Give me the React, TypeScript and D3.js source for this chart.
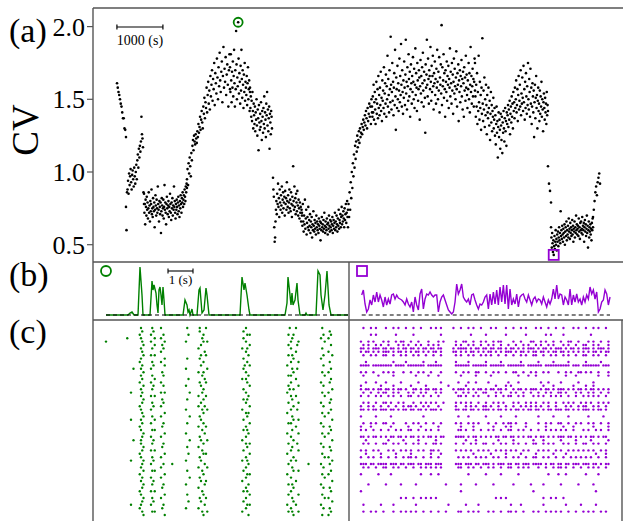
import React from 'react';
import * as d3 from 'd3';

// ---------------- Panel (a): CV versus time (s) ----------------
const segStart = [522, 717, 1109, 2043, 2978, 3413, 3913, 4543, 5543, 6065, 8304, 9891, 9957, 10870];
const segEnd = [717, 1109, 2043, 2978, 3413, 3891, 4543, 5543, 6065, 8304, 9891, 9957, 10870, 11022];

const cvS1 = [1.61, 1.58, 1.55, 1.53, 1.50, 1.47, 1.45, 1.41, 1.37, 1.37, 1.30, 1.29, 1.24];
const cvS2 = [0.76, 0.60, 0.86, 0.88, 0.94, 0.85, 0.99, 0.91, 0.97, 1.02, 0.93, 0.88, 0.98, 1.01, 0.95, 0.90, 1.03, 0.97,
  0.92, 1.00, 1.05, 0.95, 1.08, 1.12, 1.03, 1.16, 1.10, 1.18, 1.14, 1.21, 1.38, 1.26, 1.23, 1.17, 0.86, 0.78];
const cvS3 = [0.85, 0.72, 0.78, 0.64, 0.81, 0.76, 0.70, 0.83, 0.74, 0.79,
  0.68, 0.75, 0.86, 0.72, 0.77, 0.66, 0.80, 0.73, 0.78, 0.88,
  0.71, 0.75, 0.69, 0.82, 0.76, 0.73, 0.79, 0.62, 0.74, 0.84,
  0.77, 0.70, 0.81, 0.75, 0.72, 0.90, 0.78, 0.74, 0.66, 0.80,
  0.76, 0.71, 0.79, 0.58, 0.73, 0.82, 0.77, 0.70, 0.75, 0.81,
  0.68, 0.76, 0.91, 0.74, 0.79, 0.72, 0.64, 0.78, 0.83, 0.75,
  0.71, 0.77, 0.80, 0.69, 0.76, 0.73, 0.85, 0.78, 0.72, 0.67,
  0.79, 0.75, 0.82, 0.70, 0.77, 0.74, 0.90, 0.76, 0.80, 0.72,
  0.68, 0.78, 0.74, 0.81, 0.76, 0.71, 0.79, 0.83, 0.73, 0.77,
  0.69, 0.80, 0.75, 0.84, 0.78, 0.72, 0.82, 0.79, 0.86, 0.76,
  0.81, 0.84, 0.78, 0.88, 0.83, 0.80, 0.90, 0.86, 0.92, 0.89];
const cvS4 = [0.95, 1.02, 0.91, 1.06, 0.99, 1.10, 1.04, 0.97, 1.13, 1.08,
  1.18, 1.22, 1.15, 1.25, 1.21, 1.19, 1.26, 1.23, 1.20, 1.28,
  1.24, 1.33, 1.27, 1.31, 1.38, 1.29, 1.36, 1.42, 1.34, 1.30,
  1.45, 1.40, 1.51, 1.37, 1.48, 1.44, 1.58, 1.41, 1.53, 1.62,
  1.47, 1.56, 1.43, 1.66, 1.52, 1.60, 1.70, 1.49, 1.64, 1.57,
  1.75, 1.46, 1.68, 1.61, 1.54, 1.78, 1.65, 1.50, 1.72, 1.59,
  1.82, 1.63, 1.55, 1.69, 1.76, 1.48, 1.66, 1.86, 1.58, 1.71,
  1.62, 1.79, 1.53, 1.67, 1.74, 1.60, 1.45, 1.70, 1.81, 1.57];
const cvS5 = [1.72, 1.55, 1.81, 1.63, 1.48, 1.69, 1.58, 1.76, 1.52, 1.66,
  1.84, 1.61, 1.45, 1.70, 1.57, 1.97, 1.74, 1.50, 1.65, 1.59,
  2.03, 1.78, 1.54, 1.68, 1.62, 1.47, 1.73, 1.56, 1.84, 1.64,
  1.51, 1.70, 1.60, 1.44, 1.67, 1.55, 1.75, 1.49, 1.62, 1.58,
  1.53, 1.66, 1.46, 1.61, 1.72, 1.50, 1.57, 1.63, 1.42, 1.55];
const cvS6 = [1.58, 1.44, 1.52, 1.38, 1.49, 1.35, 1.55, 1.42, 1.30, 1.47,
  1.39, 1.33, 1.45, 1.28, 1.41, 1.36, 1.50, 1.32, 1.25, 1.43,
  1.37, 1.15, 1.46, 1.34, 1.29, 1.40, 1.31, 1.48, 1.35, 1.22,
  1.42, 1.38, 1.27, 1.44, 1.33, 1.52, 1.30, 1.41, 1.36, 1.24,
  1.47, 1.39, 1.55, 1.32, 1.43, 1.28, 1.37, 1.45, 1.16, 1.40,
  1.34, 1.26, 1.42, 1.38, 1.30];
const cvS7 = [0.96, 0.88, 0.83, 0.62, 0.52, 0.55, 0.66, 0.74, 0.80, 0.71,
  0.85, 0.78, 0.92, 0.76, 0.82, 0.69, 0.88, 0.79, 0.74, 0.84,
  0.77, 0.90, 0.72, 0.81, 0.86, 0.75, 0.79, 0.83, 0.70, 0.87,
  0.78, 0.82, 0.74, 0.93, 0.80, 0.76, 0.84, 0.72, 0.79, 0.88,
  0.75, 0.81, 0.73, 0.86, 0.78, 0.69, 0.83, 0.77, 1.04, 0.80,
  0.74, 0.90, 0.76, 0.82, 0.71, 0.85, 0.79, 0.73, 0.87, 0.77,
  0.70, 0.81, 0.75, 0.68, 0.79, 0.72, 0.76, 0.66, 0.74, 0.70];
const cvS8 = [0.72, 0.63, 0.78, 0.66, 0.59, 0.70, 0.64, 0.81, 0.61, 0.68,
  0.74, 0.57, 0.65, 0.69, 0.62, 0.76, 0.60, 0.67, 0.63, 0.71,
  0.58, 0.66, 0.62, 0.69, 0.55, 0.64, 0.60, 0.73, 0.63, 0.59,
  0.67, 0.61, 0.65, 0.57, 0.70, 0.62, 0.66, 0.60, 0.64, 0.58,
  0.68, 0.63, 0.61, 0.66, 0.53, 0.65, 0.60, 0.69, 0.62, 0.64,
  0.59, 0.67, 0.61, 0.72, 0.63, 0.58, 0.66, 0.62, 0.60, 0.68,
  0.64, 0.57, 0.65, 0.61, 0.70, 0.63, 0.59, 0.67, 0.62, 0.66,
  0.60, 0.64, 0.69, 0.58, 0.63, 0.67, 0.61, 0.65, 0.72, 0.60,
  0.66, 0.62, 0.70, 0.64, 0.59, 0.68, 0.63, 0.74, 0.61, 0.67,
  0.65, 0.71, 0.62, 0.69, 0.76, 0.64, 0.70, 0.66, 0.73, 0.68,
  0.62, 0.75, 0.67, 0.71, 0.78, 0.65, 0.72, 0.80, 0.69, 0.74];
const cvS9 = [0.62, 0.78, 0.69, 0.86, 0.74, 0.93, 0.82, 1.00, 0.89, 1.06,
  0.97, 1.12, 1.03, 1.18, 1.09, 1.21, 1.14, 1.25, 1.17, 1.22,
  1.28, 1.20, 1.30, 1.24, 1.27, 1.33, 1.26, 1.31, 1.36, 1.29,
  1.34, 1.39, 1.32, 1.42, 1.37, 1.30, 1.44, 1.35, 1.40, 1.47,
  1.38, 1.45, 1.33, 1.50, 1.41];
const cvS10 = [1.45, 1.38, 1.52, 1.41, 1.60, 1.36, 1.48, 1.55, 1.43, 1.33,
  1.50, 1.62, 1.40, 1.47, 1.57, 1.37, 1.66, 1.44, 1.53, 1.39,
  1.58, 1.46, 1.69, 1.42, 1.51, 1.35, 1.63, 1.49, 1.56, 1.44,
  1.72, 1.40, 1.54, 1.61, 1.47, 1.67, 1.38, 1.59, 1.50, 1.80,
  1.45, 1.64, 1.53, 1.41, 1.70, 1.57, 1.48, 1.93, 1.60, 1.43,
  1.55, 1.75, 1.49, 1.62, 1.39, 1.58, 1.68, 1.46, 1.84, 1.52,
  1.29, 1.65, 1.57, 1.44, 1.73, 1.50, 1.61, 1.42, 1.56, 1.78,
  1.48, 1.66, 1.53, 1.88, 1.60, 1.45, 1.70, 1.55, 1.40, 1.63,
  1.51, 1.76, 1.58, 1.46, 1.67, 1.91, 1.54, 1.62, 1.43, 1.72,
  1.59, 1.49, 1.81, 1.64, 1.52, 1.69, 1.38, 1.57, 1.74, 1.61,
  1.47, 1.66, 1.55, 1.79, 1.62, 1.50, 1.71, 1.44, 1.60, 1.85,
  1.53, 1.68, 1.58, 1.42, 1.75, 1.63, 1.49, 1.57, 1.70, 1.65,
  1.36, 1.59, 1.77, 1.54, 1.66, 1.48, 1.72, 1.61, 1.82, 1.56,
  1.45, 1.69, 1.63, 1.51, 1.27, 1.74, 1.58, 1.67, 1.91, 1.60,
  1.52, 1.78, 1.64, 1.47, 1.70, 1.66, 1.57, 1.86, 1.62, 1.49,
  1.73, 1.55, 1.66, 1.80, 1.59, 1.43, 1.68, 1.61, 1.76, 1.53,
  1.64, 1.47, 1.71, 1.58, 1.84, 1.62, 1.50, 1.69, 1.56, 1.79,
  1.41, 1.65, 1.60, 1.74, 1.54, 2.01, 1.46, 1.72, 1.59, 1.63,
  1.81, 1.51, 1.68, 1.57, 1.38, 1.70, 1.62, 1.55, 1.76, 1.49,
  1.66, 1.60, 1.73, 1.44, 1.64, 1.58, 1.85, 1.52, 1.69, 1.61,
  1.47, 1.75, 1.56, 1.67, 1.40, 1.62, 1.78, 1.54, 1.71, 1.59,
  1.50, 1.65, 1.83, 1.57, 1.45, 1.68, 1.60, 1.74, 1.35, 1.63,
  1.55, 1.70, 1.48, 1.66, 1.59, 1.77, 1.52, 1.64, 1.43, 1.69,
  1.61, 1.38, 1.72, 1.56, 1.65, 1.49, 1.80, 1.58, 1.67, 1.53,
  1.44, 1.63, 1.57, 1.75, 1.50, 1.68, 1.41, 1.60, 1.86, 1.55,
  1.66, 1.47, 1.59, 1.71, 1.52, 1.64, 1.45, 1.62, 1.78, 1.56];
const cvS11 = [1.75, 1.52, 1.38, 1.60, 1.45, 1.68, 1.33, 1.55, 1.42, 1.80,
  1.48, 1.36, 1.62, 1.44, 1.53, 1.29, 1.58, 1.40, 1.92, 1.47,
  1.35, 1.56, 1.43, 1.65, 1.31, 1.50, 1.39, 1.60, 1.46, 1.26,
  1.53, 1.41, 1.37, 1.58, 1.44, 1.32, 1.49, 1.22, 1.40, 1.55,
  1.34, 1.46, 1.28, 1.42, 1.38, 1.51, 1.30, 1.36, 1.44, 1.25,
  1.39, 1.19, 1.33, 1.45, 1.27, 1.35, 1.10, 1.31, 1.41, 1.24,
  1.36, 1.29, 1.16, 1.40, 1.32, 1.22, 1.38, 1.13, 1.34, 1.27,
  1.42, 1.30, 1.21, 1.37, 1.44, 1.28, 1.35, 1.18, 1.41, 1.33,
  1.39, 1.46, 1.31, 1.43, 1.36, 1.49, 1.26, 1.40, 1.45, 1.34,
  1.52, 1.38, 1.47, 1.30, 1.55, 1.42, 1.48, 1.37, 1.58, 1.44,
  1.50, 1.63, 1.41, 1.46, 1.57, 1.35, 1.53, 1.66, 1.43, 1.49,
  1.60, 1.45, 1.70, 1.39, 1.54, 1.47, 1.65, 1.51, 1.42, 1.73,
  1.48, 1.57, 1.36, 1.62, 1.44, 1.68, 1.52, 1.40, 1.59, 1.46,
  1.75, 1.50, 1.43, 1.64, 1.55, 1.38, 1.71, 1.47, 1.58, 1.33,
  1.45, 1.61, 1.52, 1.41, 1.56, 1.24, 1.48, 1.60, 1.37, 1.51,
  1.66, 1.44, 1.53, 1.30, 1.49, 1.58, 1.42, 1.47, 1.35, 1.56,
  1.40, 1.52, 1.45, 1.62, 1.38, 1.50, 1.43, 1.28, 1.48, 1.54,
  1.44, 1.36, 1.51, 1.41, 1.47, 1.33, 1.55, 1.39, 1.46, 1.42];
const cvS12 = [1.04, 0.92, 0.87, 0.79];
const cvS13 = [0.62, 0.55, 0.48, 0.58, 0.51, 0.45, 0.53, 0.43, 0.49, 0.56,
  0.47, 0.52, 0.60, 0.50, 0.54, 0.46, 0.57, 0.52, 0.59, 0.49,
  0.55, 0.62, 0.53, 0.58, 0.51, 0.73, 0.56, 0.60, 0.54, 0.63,
  0.57, 0.52, 0.61, 0.58, 0.55, 0.64, 0.50, 0.59, 0.62, 0.56,
  0.66, 0.53, 0.60, 0.57, 0.63, 0.55, 0.68, 0.59, 0.61, 0.54,
  0.65, 0.58, 0.62, 0.56, 0.60, 0.67, 0.57, 0.63, 0.52, 0.61,
  0.59, 0.66, 0.55, 0.62, 0.58, 0.70, 0.60, 0.64, 0.57, 0.61,
  0.63, 0.56, 0.68, 0.59, 0.62, 0.54, 0.65, 0.60, 0.66, 0.58,
  0.61, 0.69, 0.57, 0.63, 0.60, 0.65, 0.52, 0.62, 0.67, 0.59,
  0.64, 0.56, 0.61, 0.70, 0.58, 0.63, 0.48, 0.60, 0.66, 0.55,
  0.62, 0.59, 0.64, 0.57, 0.61, 0.53, 0.65, 0.60, 0.68, 0.62];
const cvS14 = [0.69, 0.74, 0.80, 0.86, 0.90, 0.84, 0.93, 0.96, 0.99, 0.92];

const cvSegments = [cvS1, cvS2, cvS3, cvS4, cvS5, cvS6, cvS7, cvS8, cvS9, cvS10, cvS11, cvS12, cvS13, cvS14];
const cvTicks = [0.5, 1.0, 1.5, 2.0];

// ---------------- Panel (b): population rate traces ----------------
const greenTime = [0, 0.88, 0.96, 1.04, 1.12, 1.28, 1.36, 1.44, 1.48, 1.76, 1.84, 1.88, 1.92, 2.0, 2.04, 2.08, 2.12, 2.16,
  2.2, 2.24, 2.28, 2.32, 2.36, 3.08, 3.16, 3.24, 3.28, 3.32, 3.36, 3.44, 3.48, 3.64, 3.72, 3.76, 3.84, 3.92, 4.0, 4.04,
  4.12, 5.36, 5.44, 5.52, 5.56, 5.64, 5.72, 5.76, 7.16, 7.24, 7.28, 7.36, 7.4, 7.44, 7.48, 7.56, 7.64, 7.68, 7.76, 7.96,
  8.0, 8.04, 8.4, 8.48, 8.56, 8.6, 8.68, 8.76, 8.84, 8.92, 9.0, 9.68];
const greenRate = [0, 0, 2, 3, 0, 0, 48, 20, 0, 0, 34, 25, 30, 22, 10, 2, 25, 28,
  20, 10, 28, 15, 0, 0, 15, 10, 3, 5, 0, 6, 0, 0, 25, 27, 2, 5, 27, 20,
  0, 0, 38, 25, 32, 20, 5, 0, 0, 12, 38, 20, 10, 22, 10, 15, 32, 15, 0, 0,
  2, 0, 0, 44, 40, 20, 5, 20, 44, 10, 0, 0];
const purpleStep = 1 / 15;
const purpleRate = [20, 25, 11, 3, 6, 15, 10, 20, 13, 23, 13, 20, 15, 8, 18, 10, 16, 11, 20, 21,
  16, 20, 17, 16, 15, 13, 10, 16, 11, 8, 13, 3, 18, 10, 5, 21, 26, 6, 16, 21,
  20, 23, 20, 18, 20, 20, 3, 13, 18, 20, 15, 10, 5, 3, 1, 3, 13, 31, 21, 25,
  31, 18, 15, 13, 16, 10, 20, 21, 15, 10, 6, 11, 10, 13, 18, 20, 6, 21, 10, 23,
  11, 25, 10, 28, 13, 30, 11, 30, 6, 26, 10, 16, 11, 21, 8, 18, 20, 21, 16, 13,
  20, 15, 10, 16, 18, 13, 16, 15, 11, 18, 13, 8, 15, 11, 16, 26, 16, 30, 16, 21,
  20, 10, 18, 15, 10, 26, 10, 20, 13, 21, 13, 16, 10, 18, 13, 20, 16, 28, 21, 25,
  16, 23, 3, 6, 13, 15, 25, 21, 10, 18];

// ---------------- Panel (c): rasters (spike times in 0.05 s bins per neuron) ----------------
const greenRaster = [
  [36, 45, 52, 73, 83, 88, 120, 155, 160, 181], [37, 46, 83, 118, 187], [35, 44, 54, 74, 86, 121, 123, 154, 158, 182, 188],
  [25, 36, 47, 52, 85, 118, 157, 180, 186], [8, 37, 44, 55, 72, 86, 89, 120, 156, 162, 183], [38, 47, 53, 84, 123, 154, 161, 188],
  [36, 45, 54, 82, 117, 121, 156, 181], [37, 52, 87, 120, 160, 186], [38, 44, 47, 84, 88, 122, 154, 157, 182, 189],
  [36, 55, 73, 83, 118, 158, 180], [35, 45, 52, 86, 121, 156, 162, 187], [37, 46, 55, 84, 119, 123, 153, 182],
  [30, 36, 44, 72, 89, 118, 157, 161, 188], [38, 53, 82, 86, 120, 158, 181, 186], [36, 45, 54, 85, 122, 154, 156, 183],
  [37, 47, 74, 87, 117, 120, 160, 188], [35, 44, 52, 83, 88, 121, 156, 180, 187], [38, 46, 54, 72, 84, 123, 154, 162, 182],
  [36, 45, 86, 118, 155, 158, 189], [28, 37, 52, 55, 75, 85, 120, 153, 181, 186], [36, 44, 47, 82, 88, 122, 156, 160, 183],
  [38, 53, 73, 86, 118, 121, 157, 188], [37, 45, 54, 84, 120, 154, 162, 180, 187], [35, 46, 52, 82, 87, 123, 158, 182],
  [36, 44, 72, 85, 89, 117, 156, 161, 188], [37, 55, 86, 120, 122, 153, 181, 186], [38, 45, 52, 75, 83, 121, 157, 183],
  [28, 36, 47, 84, 118, 158, 162, 189], [37, 44, 54, 73, 86, 123, 154, 156, 180], [35, 53, 82, 88, 120, 160, 182, 187],
  [36, 45, 47, 85, 118, 121, 157, 188], [38, 55, 72, 87, 122, 153, 162, 181, 186], [37, 44, 52, 83, 120, 156, 183],
  [30, 36, 46, 75, 84, 89, 117, 158, 189], [36, 45, 54, 86, 120, 123, 154, 161, 180], [38, 53, 73, 82, 121, 157, 182, 187],
  [37, 44, 47, 85, 118, 156, 162, 188], [35, 55, 74, 86, 88, 123, 153, 181], [36, 45, 52, 83, 120, 158, 183, 186],
  [28, 38, 46, 72, 84, 117, 121, 156, 160, 189], [37, 44, 54, 61, 87, 122, 154, 170, 180, 187], [36, 52, 82, 89, 120, 157, 182],
  [38, 45, 47, 73, 85, 118, 158, 162, 188], [35, 55, 86, 121, 123, 153, 181, 186], [37, 44, 52, 75, 83, 120, 156, 183],
  [36, 46, 84, 88, 117, 160, 189], [38, 45, 54, 72, 87, 122, 154, 157, 180], [37, 53, 82, 120, 158, 182, 187],
  [35, 44, 47, 85, 118, 121, 156, 188], [36, 55, 73, 86, 123, 154, 162, 181], [38, 45, 52, 83, 88, 120, 157, 183, 186],
  [37, 46, 74, 84, 118, 158, 189], [28, 36, 44, 54, 87, 121, 123, 153, 160, 180], [35, 53, 72, 82, 120, 156, 182, 187],
  [37, 45, 47, 85, 89, 117, 154, 157, 162, 188], [38, 55, 86, 122, 158, 181, 186]];

const purpleRaster = [
  "-o--o-o--- o--o-o--o- -o--o---o- o-o----o-- o--o-o--o- --o-o---o- -o--o-o--- o-o--o--o- -o---o-o-- o--o-o--o-",
  "",
  "----o-o--- ----o----- -o-------- --o------- ----o----- o-------o- ------o--- ----o-o--- -o-------- --o-------",
  "",
  "o--o-o---o -o--o-oo-- o--o---o-- -o-o----o- -oo--o--o- o--o-oo--- -o--o---oo --o-o--o-- o--oo--o-- -o-o--o--o",
  "-o-o--o-o- -o---o-o-o --o-o--o-o -o------o- o--o-o--o- -o-o--o--o --o--o-o-- o-o--o-o-- -o-o--o--o o--o-o---o",
  "oo-o-ooo-o o-oo-o-oo- oo-o-oo-oo -oo----o-o ooo-o-oo-o o-oo-oo-o- oo-o-o-ooo -o-oo-o-oo o-o-oo-o-o oo-o-ooo-o",
  "o-oo-o-o-o oo-o-oo-o- o-oo-o-o-o o-o----oo- o-o-oo-o-o -oo-o-o-oo o-o-oo-o-o o-oo-o-oo- oo-o-o-o-o -o-oo-o-oo",
  "-o--o-o--o o--o--o-o- -o-o--o--o --o-----o- o--o-o--o- o-o--o--o- -o--o-o--o o--o--o-o- -o-o--o--o o--o-o--o-",
  "",
  "--o------- ---o----o- -----o---- o-------o- ---o------ o-----o--- ----o----- -o-----o-- ---o------ o-----o---",
  "oooo-ooooo ooo-oooo-o oooooo-ooo ooo-----oo oooo-ooooo o-oooooo-o oooooo-ooo ooo-oooooo oooo-ooo-o oooooo-ooo",
  "",
  "o-o--o---o -o-o---o-- o--o-o--o- --o-----o- -o-o--oo-- o--o-o--o- -oo--o--o- o--o-o---o --o-o--oo- o-o--o---o",
  "-o-----o-- ---o------ --o----o-- -o-------- o-----o--- --o------- ---o---o-- o--------- --o---o--- -----o---o",
  "",
  "--o---o--- o-----o--- ---o------ --o------o ---o--o--- -o-------o ---o------ --o--o---- o------o-- ---o------",
  "o-------o- ---o------ o-----o--- -----o---- --o------- ----o---o- o--------- ---o---o-- -----o---- o--o------",
  "o-oo-o-oo- oo-o-oo-o- -oo-o-oo-o o-o----o-o oo-o-o-oo- o-oo-oo-o- -o-oo-o-oo o-o-oo-o-o oo-o-o-oo- o-oo-o-o-o",
  "-o--o--o-o o--o-o---o -o--o-o--- o-o-----o- -o-o--o--o o---o-o--- o-o--o--o- -o--o-o--o o-o---o-o- -o-o--o--o",
  "o--o--o-o- -o-o--o--o o--o-o--o- -o-------o o-o--o-o-- -o--o--o-o o--o-o---o -o-o--o-o- o--o--o--o -o-o-o--o-",
  "",
  "-o-o--o--o o-o--o-o-- -o--o-o-o- o--o----o- o-o-o--o-- o--o-o-o-- -o-o--o-o- o--o-o--o- -o-o-o--o- o-o--o-o-o",
  "o--o-o--o- -o--o--o-o o-o--o-o-- -o------o- --o-o-o--o o-o--o--o- -o--o-o-o- o-o--o--o- --o-o--o-o o--o-o--o-",
  "oo-o-oo-oo o-oo-o-oo- oo-oo-o-oo o-o-----oo -oo-oo-o-o oo-o-oo-o- o-oo-o-oo- oo-o-oo-oo o-oo-o-o-o oo-o-oo-o-",
  "",
  "o-----o--- --o------- -----o---- ---------o ---o------ o-----o--- --o------- -o-----o-- ---o------ -o-----o--",
  "",
  "-o--o-o--o o--o----o- -o-o--o--o --o-----o- o--o-o-o-- -o--o--o-o o-o---o--- -o--o-o--o o--o--o-o- -o-o--o--o",
  "o---o----- --o------o ----o----- -o-------- o----o---- ---o----o- o-----o--- ----o----- -o---o---- ---o-----o",
  "o-o--o--o- -o--o-o--o o--o--o-o- -o-------o o-o--o--o- -o-o--o--o o--o-o--o- -o--o-o-o- o-o--o---o -o--o-o--o",
  "",
  "oo-o-oo-o- o-oo-oo-o- oo-o-o-oo- o-oo----oo oo-o-oo-o- o-o-oo-oo- oo-o-o-oo- o-oo-o-o-o oo-oo-o-o- o-oo-o-oo-",
  "--o------- -o-----o-- ---o------ o--------- --o---o--- -----o---- -o-------o ---o------ o-----o--- --o------o",
  "-o-o--o--o o--o-o--o- -o-o--o--o o-o-----o- -o--o-o--o o--o--o-o- -o-o--o--o o--o-o-o-- -o-o--o--o o--o-o--o-",
  "",
  "o-o--o-o-- -o-o--o-o- o--o-o--oo -o------o- o-o-o--o-o -o--o-o-o- o-o--o-o-- -o-o-o--o- o--o-o-o-o -o-o--o-o-",
  "--o-----o- ----o----- o-------o- --o------- -----o---- --o-----o- ----o----- o------o-- --o------- ----o---o-",
  "o--o-o--o- -o--o--o-o o-o--o--o- -o-------o -o-o--o-o- o--o-o--o- -o-o--o--o o--o-o--o- -o--o-o-o- o-o--o--o-",
  "",
  "ooo-oo-ooo o-ooo-oo-o oo-oo-ooo- ooo-----oo o-ooo-oo-o oo-o-ooo-o o-oo-ooo-o ooo-o-oo-o o-oo-ooo-o oo-oo-o-oo",
  "-o-o--o--o o--o-o--o- -o--o-o-o- o-o------o o--o-o--o- -o-o--o--o o--o-o-o-- -o--o--o-o o-o--o--o- -o-o-o--o-",
  "",
  "o------o-- --o------- ----o---o- -o-------- ---o------ o-----o--- ---o------ -----o---o --o------- o----o----",
  "",
  "",
  "---o------ o-----o--- --o------- ----o----- o-----o--- ---o------ -o------o- ---o------ o------o-- ---o------",
  "",
  "o--------- ---------- ---------- ---------- o--------- ---------- ---------o ---------- ---------- ----o-----",
  "",
  "---------- ------o-o- -o--o-o-o- o--------- ---------- ----o-o-o- ---------- ---o--o-o- -o-------- ----------",
  "",
  "-o------o- ---o------ --o------- -----o---- --o----o-- ---------- o---o----- ---o------ --o-----o- ----o-----",
  "",
  "-o--o-o--o ---o--o-o- o-o--o--o- -o--o----o o--o-o-o-- -o-o--o--o o-o--o---o -o--o-o-o- o--o--o--o -o-o--o-o-",
  ""];

const GREEN = '#008000';
const PURPLE = '#9400d3';
const FRAME = '#555555';
const SERIF = "'Liberation Serif', 'Times New Roman', Times, 'DejaVu Serif', serif";

export default function App() {
  // panel (a) scales
  const xA = d3.scaleLinear().domain([0, 11500]).range([93, 622]);
  const yA = d3.scaleLinear().domain([0.381, 2.128]).range([262, 8]);

  const cvPoints: { t: number; v: number }[] = [];
  cvSegments.forEach((vals, s) => {
    const n = vals.length;
    vals.forEach((v, i) => {
      const t = n > 1 ? segStart[s] + ((segEnd[s] - segStart[s]) * i) / (n - 1) : segStart[s];
      cvPoints.push({ t, v });
    });
  });
  const maxPt = cvPoints.reduce((a, b) => (b.v > a.v ? b : a));
  const minPt = cvPoints.reduce((a, b) => (b.v < a.v ? b : a));

  // panel (b) scales
  const xBL = d3.scaleLinear().domain([0, 1]).range([106, 131]);
  const xBR = d3.scaleLinear().domain([0, 1]).range([361.7, 386.7]);
  const yB = d3.scaleLinear().domain([0, 48]).range([315, 267]);
  const greenLine = d3.line<number>().x((_, i) => xBL(greenTime[i])).y((d) => yB(d))(greenRate) || '';
  const purpleLine = d3.line<number>().x((_, i) => xBR(i * purpleStep)).y((d) => yB(d))(purpleRate) || '';

  // panel (c) scales
  const yC = d3.scaleLinear().domain([0, 55]).range([328, 515]);
  const binTimeL = (i: number) => -0.4 + 0.05 * i;
  const binTimeR = (i: number) => -0.03 + 0.1 * i;

  const purpleDots: { r: number; i: number }[] = [];
  purpleRaster.forEach((row, r) => {
    row.replace(/ /g, '').split('').forEach((c, i) => {
      if (c === 'o') purpleDots.push({ r, i });
    });
  });

  const txt = { fontFamily: SERIF } as React.CSSProperties;

  return (
    <svg width={623} height={521} style={{ position: 'absolute', left: 0, top: 0, background: '#fff', fontFamily: SERIF }}>
      {/* frames */}
      <g stroke={FRAME} strokeWidth={1.4} fill="none">
        <line x1={93} y1={8} x2={623} y2={8} />
        <line x1={93} y1={8} x2={93} y2={521} />
        <line x1={93} y1={262} x2={623} y2={262} />
        <line x1={93} y1={320} x2={623} y2={320} />
        <line x1={349} y1={262} x2={349} y2={521} />
        <line x1={622} y1={320} x2={622} y2={521} />
      </g>

      {/* panel (a) */}
      <text x={9} y={42} fontSize={34} style={txt}>(a)</text>
      {cvTicks.map((v) => (
        <g key={v}>
          <line x1={87} x2={93} y1={yA(v)} y2={yA(v)} stroke={FRAME} strokeWidth={1.2} />
          <text x={85} y={yA(v)} dy="0.35em" textAnchor="end" fontSize={26} style={txt}>{v.toFixed(1)}</text>
        </g>
      ))}
      <text transform="translate(38,130) rotate(-90)" textAnchor="middle" fontSize={37} style={txt}>CV</text>
      {/* scale bar 1000 s */}
      <g stroke="#000" strokeWidth={1.2}>
        <line x1={xA(520)} x2={xA(1520)} y1={27} y2={27} />
        <line x1={xA(520)} x2={xA(520)} y1={24.5} y2={29.5} />
        <line x1={xA(1520)} x2={xA(1520)} y1={24.5} y2={29.5} />
      </g>
      <text x={xA(1020)} y={45} textAnchor="middle" fontSize={14} style={txt}>1000 (s)</text>
      <g fill="#000">
        {cvPoints.map((p, k) => (
          <circle key={k} cx={xA(p.t)} cy={yA(p.v)} r={1.3} />
        ))}
      </g>
      <circle cx={xA(maxPt.t)} cy={yA(maxPt.v)} r={4.5} fill="none" stroke={GREEN} strokeWidth={1.8} />
      <rect x={xA(minPt.t) - 5} y={yA(minPt.v) - 5} width={10} height={10} fill="none" stroke={PURPLE} strokeWidth={1.8} />

      {/* panel (b) */}
      <text x={9} y={286} fontSize={34} style={txt}>(b)</text>
      <circle cx={106} cy={271} r={5} fill="none" stroke={GREEN} strokeWidth={1.8} />
      <rect x={357} y={266} width={10} height={10} fill="none" stroke={PURPLE} strokeWidth={1.8} />
      <g stroke="#000" strokeWidth={1.1}>
        <line x1={xBL(2.48)} x2={xBL(3.48)} y1={271} y2={271} />
        <line x1={xBL(2.48)} x2={xBL(2.48)} y1={268.5} y2={273.5} />
        <line x1={xBL(3.48)} x2={xBL(3.48)} y1={268.5} y2={273.5} />
      </g>
      <text x={xBL(2.98)} y={284} textAnchor="middle" fontSize={13} style={txt}>1 (s)</text>
      <path d={greenLine} fill="none" stroke={GREEN} strokeWidth={1.4} />
      <path d={purpleLine} fill="none" stroke={PURPLE} strokeWidth={1.4} />
      <line x1={xBL(0)} x2={xBL(9.68)} y1={yB(0)} y2={yB(0)} stroke="#000" strokeWidth={1.2} strokeDasharray="4,3" />
      <line x1={xBR(0)} x2={xBR(149 * purpleStep)} y1={yB(0)} y2={yB(0)} stroke="#000" strokeWidth={1.2} strokeDasharray="4,3" />

      {/* panel (c) */}
      <text x={9} y={343} fontSize={34} style={txt}>(c)</text>
      <g fill={GREEN}>
        {greenRaster.map((row, r) =>
          row.map((b) => <circle key={r + '-' + b} cx={xBL(binTimeL(b))} cy={yC(r)} r={1.2} />)
        )}
      </g>
      <g fill={PURPLE}>
        {purpleDots.map((d, k) => (
          <circle key={k} cx={xBR(binTimeR(d.i))} cy={yC(d.r)} r={1.2} />
        ))}
      </g>
    </svg>
  );
}
